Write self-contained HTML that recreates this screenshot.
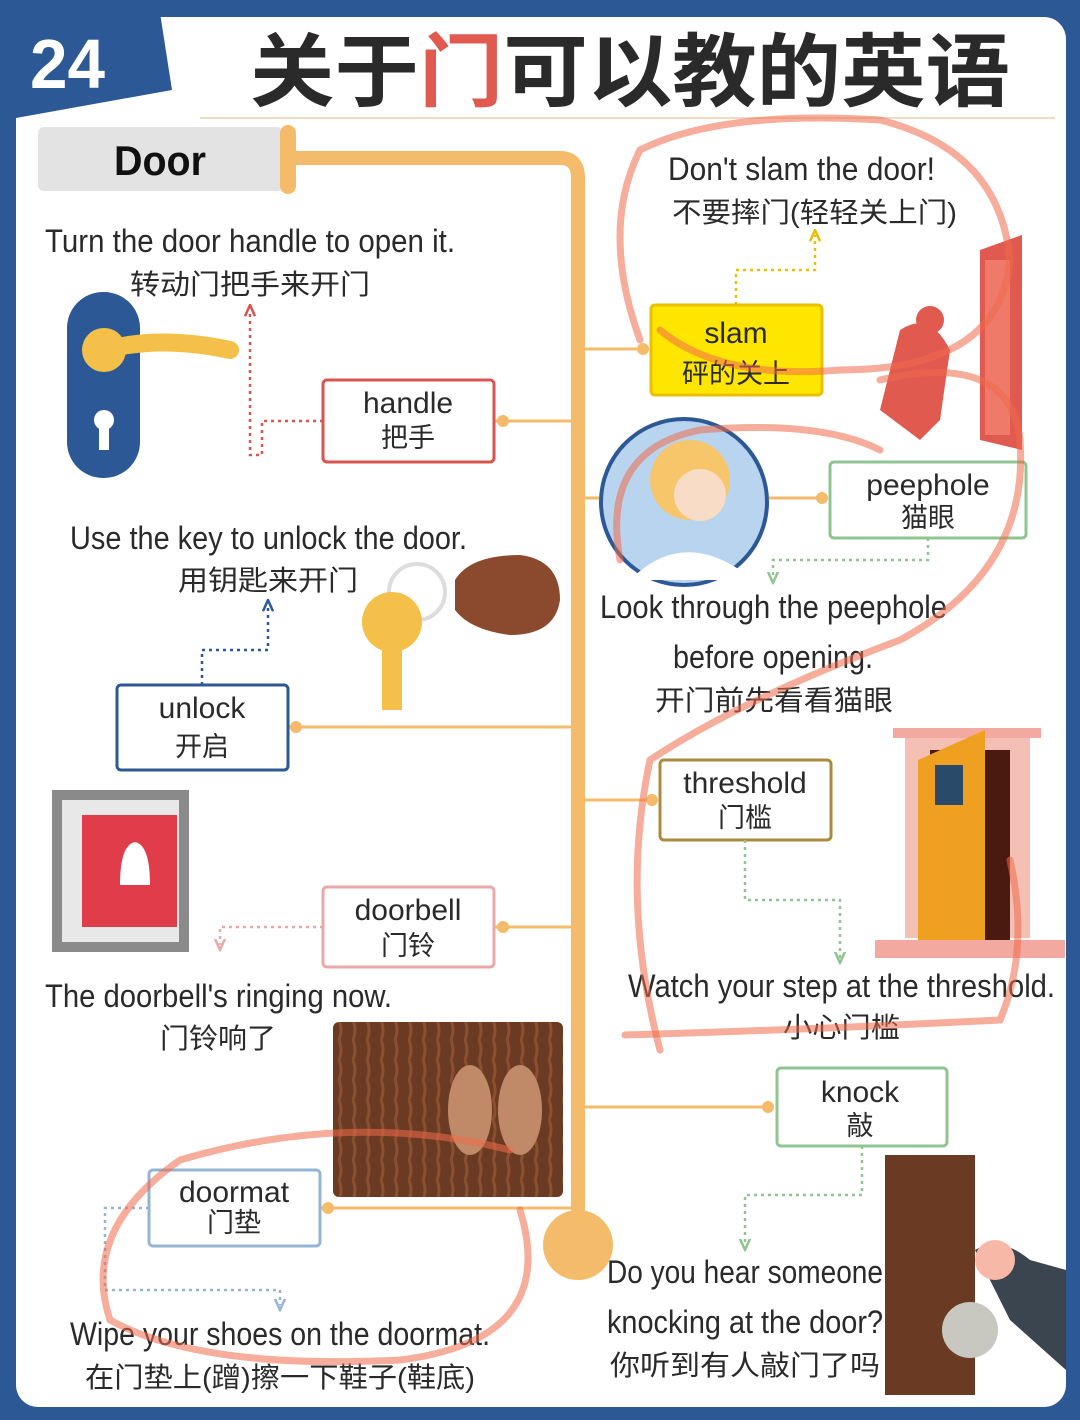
<!DOCTYPE html>
<html><head><meta charset="utf-8"><style>
html,body{margin:0;padding:0;background:#2c5996;}
svg{display:block}
text{font-family:"Liberation Sans","Noto Sans CJK SC",sans-serif;fill:#2a2a2a}
</style></head><body>
<svg width="1080" height="1420" viewBox="0 0 1080 1420" xmlns="http://www.w3.org/2000/svg">
<defs>
<marker id="ar" viewBox="0 0 10 10" refX="5" refY="5" markerWidth="5" markerHeight="5" orient="auto"><path d="M0,1 L9,5 L0,9" fill="none" stroke="context-stroke" stroke-width="2"/></marker>
<pattern id="mat" width="14" height="20" patternUnits="userSpaceOnUse"><rect width="14" height="20" fill="#6b3a22"/><path d="M3,0 Q7,10 3,20" stroke="#8a5030" stroke-width="3" fill="none"/></pattern>
</defs>
<rect x="0" y="0" width="1080" height="1420" fill="#2c5996"/>
<rect x="16" y="17" width="1050" height="1390" rx="22" fill="#ffffff"/>
<polygon points="0,0 158,0 172,90 16,118 0,118" fill="#2c5996"/>
<text x="30" y="88" font-size="70" font-weight="bold" style="fill:#fff" textLength="75" lengthAdjust="spacingAndGlyphs">24</text>
<text x="250" y="100" font-size="80" font-weight="bold" textLength="760" lengthAdjust="spacingAndGlyphs"><tspan style="fill:#2a2a2a">关于</tspan><tspan style="fill:#e05a50">门</tspan><tspan style="fill:#2a2a2a">可以教的英语</tspan></text>
<line x1="200" y1="118" x2="1055" y2="118" stroke="#f0dcc0" stroke-width="2"/>
<rect x="38" y="127" width="245" height="64" rx="6" fill="#e3e3e3"/>
<text x="114" y="175" font-size="42" font-weight="bold" style="fill:#111" textLength="92" lengthAdjust="spacingAndGlyphs">Door</text>
<g stroke="#f4bb6a" fill="none" stroke-linecap="round">
<line x1="288" y1="133" x2="288" y2="186" stroke-width="16"/>
<path d="M288,158 H560 Q578,158 578,178 V1215" stroke-width="14"/>
<g stroke-width="3">
<line x1="494" y1="421" x2="578" y2="421"/>
<line x1="578" y1="349" x2="645" y2="349"/>
<line x1="578" y1="498" x2="822" y2="498"/>
<line x1="290" y1="727" x2="578" y2="727"/>
<line x1="578" y1="800" x2="655" y2="800"/>
<line x1="494" y1="927" x2="578" y2="927"/>
<line x1="578" y1="1107" x2="770" y2="1107"/>
<line x1="320" y1="1208" x2="578" y2="1208"/>
</g></g>
<circle cx="578" cy="1245" r="35" fill="#f4bb6a"/>
<g fill="#f4bb6a">
<circle cx="503" cy="421" r="6"/><circle cx="643" cy="349" r="6"/><circle cx="822" cy="498" r="6"/>
<circle cx="296" cy="727" r="6"/><circle cx="652" cy="800" r="6"/><circle cx="503" cy="927" r="6"/>
<circle cx="768" cy="1107" r="6"/><circle cx="328" cy="1208" r="6"/></g>
<text x="45" y="252" font-size="32" textLength="410" lengthAdjust="spacingAndGlyphs">Turn the door handle to open it.</text>
<text x="130" y="294" font-size="28" textLength="240" lengthAdjust="spacingAndGlyphs">转动门把手来开门</text>
<text x="70" y="549" font-size="32" textLength="397" lengthAdjust="spacingAndGlyphs">Use the key to unlock the door.</text>
<text x="178" y="590" font-size="28" textLength="180" lengthAdjust="spacingAndGlyphs">用钥匙来开门</text>
<text x="45" y="1007" font-size="32" textLength="347" lengthAdjust="spacingAndGlyphs">The doorbell's ringing now.</text>
<text x="160" y="1048" font-size="28" textLength="116" lengthAdjust="spacingAndGlyphs">门铃响了</text>
<text x="70" y="1345" font-size="32" textLength="420" lengthAdjust="spacingAndGlyphs">Wipe your shoes on the doormat.</text>
<text x="85" y="1387" font-size="28" textLength="390" lengthAdjust="spacingAndGlyphs">在门垫上(蹭)擦一下鞋子(鞋底)</text>
<text x="668" y="180" font-size="32" textLength="267" lengthAdjust="spacingAndGlyphs">Don't slam the door!</text>
<text x="672" y="222" font-size="28" textLength="285" lengthAdjust="spacingAndGlyphs">不要摔门(轻轻关上门)</text>
<text x="600" y="618" font-size="32" textLength="347" lengthAdjust="spacingAndGlyphs">Look through the peephole</text>
<text x="673" y="668" font-size="32" textLength="200" lengthAdjust="spacingAndGlyphs">before opening.</text>
<text x="655" y="710" font-size="28" textLength="238" lengthAdjust="spacingAndGlyphs">开门前先看看猫眼</text>
<text x="628" y="997" font-size="32" textLength="427" lengthAdjust="spacingAndGlyphs">Watch your step at the threshold.</text>
<text x="783" y="1037" font-size="28" textLength="117" lengthAdjust="spacingAndGlyphs">小心门槛</text>
<text x="607" y="1283" font-size="32" textLength="276" lengthAdjust="spacingAndGlyphs">Do you hear someone</text>
<text x="607" y="1333" font-size="32" textLength="276" lengthAdjust="spacingAndGlyphs">knocking at the door?</text>
<text x="610" y="1375" font-size="28" textLength="270" lengthAdjust="spacingAndGlyphs">你听到有人敲门了吗</text>
<g stroke-width="3" fill="#fff">
<rect x="323" y="380" width="171" height="82" rx="4" stroke="#d9534f"/>
<rect x="117" y="685" width="171" height="85" rx="4" stroke="#2c5996"/>
<rect x="323" y="887" width="171" height="80" rx="4" stroke="#eba8a8"/>
<rect x="149" y="1170" width="171" height="76" rx="4" stroke="#95b4d4"/>
<rect x="651" y="305" width="171" height="90" rx="4" stroke="#e8c000" fill="#ffe600"/>
<rect x="830" y="462" width="196" height="76" rx="4" stroke="#90c490"/>
<rect x="660" y="760" width="171" height="80" rx="4" stroke="#a88c3c"/>
<rect x="777" y="1068" width="170" height="78" rx="4" stroke="#90c490"/>
</g>
<g font-size="30" text-anchor="middle">
<text x="408" y="413">handle</text><text x="408" y="447" font-size="27">把手</text>
<text x="202" y="718">unlock</text><text x="202" y="756" font-size="27">开启</text>
<text x="408" y="920">doorbell</text><text x="408" y="955" font-size="27">门铃</text>
<text x="234" y="1202">doormat</text><text x="234" y="1232" font-size="27">门垫</text>
<text x="736" y="343">slam</text><text x="736" y="383" font-size="27">砰的关上</text>
<text x="928" y="495">peephole</text><text x="928" y="527" font-size="27">猫眼</text>
<text x="745" y="793">threshold</text><text x="745" y="827" font-size="27">门槛</text>
<text x="860" y="1102">knock</text><text x="860" y="1135" font-size="27">敲</text>
</g>
<g fill="none" stroke-width="2.5" stroke-dasharray="3,4">
<path d="M323,421 H262 V455 H250 V310" stroke="#d9534f" marker-end="url(#ar)"/>
<path d="M202,685 V650 H268 V605" stroke="#2c5996" marker-end="url(#ar)"/>
<path d="M323,927 H220 V945" stroke="#eba8a8" marker-end="url(#ar)"/>
<path d="M149,1208 H105 V1290 H280 V1305" stroke="#95b4d4" marker-end="url(#ar)"/>
<path d="M736,305 V270 H815 V235" stroke="#e8c000" marker-end="url(#ar)"/>
<path d="M928,538 V560 H773 V578" stroke="#90c490" marker-end="url(#ar)"/>
<path d="M745,840 V900 H840 V958" stroke="#90c490" marker-end="url(#ar)"/>
<path d="M862,1146 V1195 H745 V1245" stroke="#90c490" marker-end="url(#ar)"/>
</g>
<rect x="67" y="292" width="73" height="186" rx="36" fill="#2c5996"/>
<circle cx="104" cy="350" r="22" fill="#f5c04a"/>
<path d="M104,350 Q160,335 230,350" stroke="#f5c04a" stroke-width="18" fill="none" stroke-linecap="round"/>
<circle cx="104" cy="420" r="10" fill="#fff"/><rect x="99" y="420" width="10" height="30" fill="#fff"/>
<circle cx="417" cy="592" r="28" fill="none" stroke="#ddd" stroke-width="4"/>
<path d="M455,580 Q470,555 520,555 Q560,560 560,600 Q555,635 510,635 Q470,630 455,610 Z" fill="#8b4a2e"/>
<circle cx="392" cy="622" r="30" fill="#f5c04a"/><rect x="382" y="640" width="20" height="70" fill="#f5c04a"/>
<rect x="52" y="790" width="137" height="162" fill="#8a8a8a"/>
<rect x="62" y="800" width="117" height="142" fill="#e8e8e8"/>
<rect x="82" y="815" width="95" height="112" fill="#e03c4a"/>
<path d="M120,885 Q120,845 135,842 Q150,845 150,885 Z" fill="#fff"/>
<rect x="333" y="1022" width="230" height="175" rx="6" fill="url(#mat)"/>
<ellipse cx="470" cy="1110" rx="22" ry="45" fill="#c08a68"/>
<ellipse cx="520" cy="1110" rx="22" ry="45" fill="#c08a68"/>
<polygon points="980,250 1022,235 1022,450 980,440" fill="#e05a50"/>
<rect x="985" y="260" width="25" height="175" fill="#f07a6a"/>
<path d="M900,330 Q930,310 950,350 L940,420 L920,440 L880,410" fill="#e05a50"/>
<circle cx="930" cy="320" r="14" fill="#e05a50"/>
<circle cx="684" cy="502" r="83" fill="#b9d4ee" stroke="#2c5996" stroke-width="4"/>
<circle cx="690" cy="480" r="40" fill="#f7c66a"/>
<circle cx="700" cy="495" r="26" fill="#f8dcc6"/>
<path d="M630,580 Q680,530 740,570 L740,580 Z" fill="#fff"/>
<rect x="893" y="728" width="148" height="10" fill="#f3a8a0"/>
<rect x="905" y="738" width="125" height="200" fill="#f4c0b6"/>
<rect x="930" y="750" width="80" height="190" fill="#4a1a10"/>
<polygon points="918,760 985,730 985,945 918,940" fill="#f0a020"/>
<rect x="935" y="765" width="28" height="40" fill="#2a4a6a"/>
<rect x="875" y="940" width="190" height="18" fill="#f3a8a0"/>
<rect x="885" y="1155" width="90" height="240" fill="#6b3a22"/>
<circle cx="970" cy="1330" r="28" fill="#c8c8c0"/>
<path d="M975,1250 Q1000,1235 1030,1260 L1066,1270 L1066,1370 L1010,1320 Z" fill="#3a4550"/>
<circle cx="995" cy="1260" r="20" fill="#f8b8a8"/>
<g fill="none" stroke="#f06a4a" stroke-opacity="0.55" stroke-width="7" stroke-linecap="round">
<path d="M640,340 Q600,230 640,150 Q720,110 880,120 Q1000,150 1010,260 Q1000,370 840,370 Q720,380 660,330"/>
<path d="M880,380 Q1010,350 1020,440 Q1030,570 900,640 Q740,700 650,760 Q620,900 660,1050"/>
<path d="M620,560 Q600,450 700,430 Q820,420 880,450"/>
<path d="M625,1035 Q800,1030 1000,1020 Q1030,950 1010,860"/>
<path d="M520,1210 Q560,1340 400,1360 Q200,1370 110,1320 Q80,1230 180,1160 Q350,1110 510,1150"/>
</g>
</svg>
</body></html>
